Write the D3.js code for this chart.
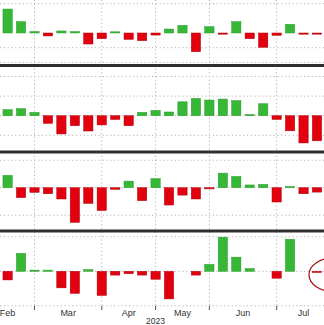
<!DOCTYPE html>
<html><head><meta charset="utf-8">
<script src="https://cdn.jsdelivr.net/npm/d3@7"></script>
<style>html,body{margin:0;padding:0;background:#fff;}svg{display:block;}</style>
</head><body>
<svg id="chart" width="324" height="325"></svg>
<script>
// ---- data ----
const weeks = ["2023-02-17","2023-02-24","2023-03-03","2023-03-10","2023-03-17","2023-03-24","2023-03-31",
  "2023-04-07","2023-04-14","2023-04-21","2023-04-28","2023-05-05","2023-05-12","2023-05-19","2023-05-26",
  "2023-06-02","2023-06-09","2023-06-16","2023-06-23","2023-06-30","2023-07-07","2023-07-14","2023-07-21","2023-07-28"];
const series1 = [1.63,0.77,0.10,-0.20,0.14,0.10,-0.75,-0.39,0.05,-0.43,-0.52,-0.14,0.27,0.52,-1.27,0.43,-0.02,0.77,-0.39,-0.97,-0.16,0.59,-0.02,-0.02];
const series2 = [0.31,0.36,0.17,-0.39,-0.93,-0.51,-0.78,-0.47,-0.19,-0.51,0.17,0.27,0.19,0.71,0.88,0.80,0.85,0.77,0.02,0.61,-0.19,-0.77,-1.39,-1.28];
const series3 = [0.45,-0.36,-0.17,-0.22,-0.41,-1.26,-0.57,-0.83,-0.06,0.24,-0.47,0.33,-0.63,-0.27,-0.41,-0.03,0.53,0.41,0.10,0.12,-0.52,0.01,-0.22,-0.16];
const series4 = [-0.25,0.52,0.03,0.03,-0.48,-0.64,0.05,-0.70,-0.11,-0.07,-0.11,-0.23,-0.80,0,-0.11,0.20,0.99,0.41,0.08,0,-0.20,0.93,0,-0.01];
const gridTicks1 = [2,-1,-2];
const gridTicks2 = [2,1,0,-1];
const gridTicks3 = [1,0,-1];
const gridTicks4 = [1,0,-1];
const monthLabels = ["Feb","Mar","Apr","May","Jun","Jul"];
const yearLabel = "2023";

// ---- layout ----
const parse = d3.timeParse("%Y-%m-%d");
const dates = weeks.map(parse);
const svg = d3.select("#chart");
const x = d3.scaleTime().domain([dates[0], dates[dates.length-1]]).range([7.6, 317]);
const barW = 9.3;
const GREEN = "#36b836", GREEN_S = "#2a9a2a", RED = "#e2000e", RED_S = "#b3000a";

const panels = [
  {vals: series1, ticks: gridTicks1, y: d3.scaleLinear().domain([-2.143, 2.245]).range([64.5, 0])},
  {vals: series2, ticks: gridTicks2, y: d3.scaleLinear().domain([-1.80, 2.485]).range([151, 67])},
  {vals: series3, ticks: gridTicks3, y: d3.scaleLinear().domain([-1.538, 1.244]).range([230, 153.5])},
  {vals: series4, ticks: gridTicks4, y: d3.scaleLinear().domain([-1.006, 1.125]).range([306, 232.5])}
];

// month ticks: first weekly observation in each month (Feb..Aug)
const monthStarts = d3.range(1, 8).map(m => d3.timeFriday.ceil(new Date(2023, m, 1)));
const gridDates = monthStarts.slice(1, 6); // Mar..Jul
const gridG = svg.append("g");
gridG.selectAll("line").data(gridDates).join("line")
  .attr("x1", d => x(d)).attr("x2", d => x(d)).attr("y1", 0).attr("y2", 306)
  .attr("stroke", "#b4b4b4").attr("stroke-width", 1).attr("stroke-dasharray", "1.2,2.6");

panels.forEach(p => {
  const g = svg.append("g");
  g.selectAll("line").data(p.ticks).join("line")
    .attr("x1", 0).attr("x2", 324).attr("y1", d => p.y(d)).attr("y2", d => p.y(d))
    .attr("stroke", "#b4b4b4").attr("stroke-width", 1).attr("stroke-dasharray", "1.2,2.6");
  const y0 = p.y(0);
  g.selectAll("rect").data(p.vals.map((v, i) => ({v, d: dates[i]})).filter(o => o.v !== 0)).join("rect")
    .attr("x", o => x(o.d) - barW / 2)
    .attr("width", barW)
    .attr("y", o => o.v > 0 ? Math.min(p.y(o.v), y0 - 1.2) : y0)
    .attr("height", o => Math.max(Math.abs(p.y(o.v) - y0), 1.2))
    .attr("fill", o => o.v > 0 ? GREEN : RED)
    .attr("stroke", o => o.v > 0 ? GREEN_S : RED_S)
    .attr("stroke-width", 0.5);
});

// separators between panels
svg.append("g").selectAll("line").data(panels.slice(0, 3).map(p => p.y.range()[0] + 1)).join("line")
  .attr("x1", 0).attr("x2", 324).attr("y1", d => d).attr("y2", d => d)
  .attr("stroke", "#2e2e2e").attr("stroke-width", 3);

// bottom axis ticks and labels
const axisY = panels[3].y.range()[0];
svg.append("g").selectAll("line").data(gridDates).join("line")
  .attr("x1", d => x(d)).attr("x2", d => x(d)).attr("y1", axisY).attr("y2", axisY + 4)
  .attr("stroke", "#555").attr("stroke-width", 1);

const labelPos = monthLabels.map((m, i) => {
  const a = d3.timeFriday.ceil(new Date(2023, i + 1, 1));
  const b = d3.timeFriday.ceil(new Date(2023, i + 2, 1));
  return {m, d: new Date((a.getTime() + b.getTime()) / 2)};
});
svg.append("g").selectAll("text").data(labelPos).join("text")
  .attr("x", o => x(o.d)).attr("y", 316).attr("text-anchor", "middle")
  .attr("font-family", "Liberation Sans, Arial, sans-serif").attr("font-size", 9).attr("fill", "#333")
  .text(o => o.m);
svg.append("text").attr("x", x(monthStarts[3])).attr("y", 324).attr("text-anchor", "middle")
  .attr("font-family", "Liberation Sans, Arial, sans-serif").attr("font-size", 8.5).attr("fill", "#333")
  .text(yearLabel);

// annotation ellipse around latest bar
svg.append("ellipse").attr("cx", x(dates[23]) + 17).attr("cy", panels[3].y(0) + 3.5)
  .attr("rx", 25).attr("ry", 17).attr("fill", "none").attr("stroke", "#a8101c").attr("stroke-width", 1.3);
</script>
</body></html>
